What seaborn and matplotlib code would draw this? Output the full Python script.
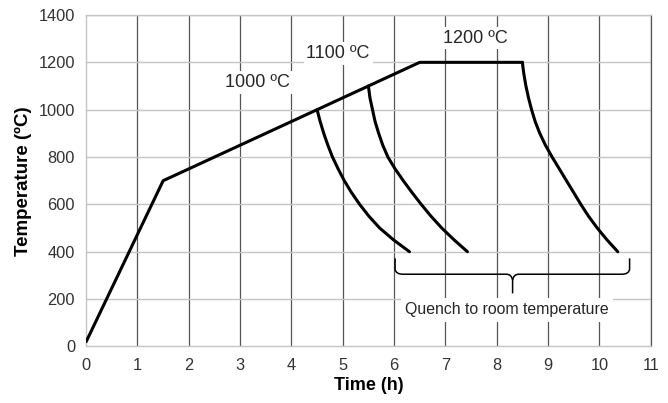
import numpy as np
import pandas as pd
import matplotlib
matplotlib.use("Agg")
import matplotlib.pyplot as plt
from matplotlib.path import Path
from matplotlib.patches import PathPatch
import seaborn as sns

# heating ramp + hold at 1200 C
ramp_time = [0.0, 1.5, 6.5, 8.5]
ramp_temp = [20, 700, 1200, 1200]

# quench curves
q1000_time = [4.50, 4.56, 4.63, 4.71, 4.80, 4.91, 5.03, 5.17, 5.33, 5.51, 5.72, 5.99, 6.30]
q1000_temp = [1000, 950, 900, 850, 800, 750, 700, 650, 600, 550, 500, 450, 400]
q1100_time = [5.50, 5.53, 5.58, 5.63, 5.70, 5.78, 5.88, 6.02, 6.18, 6.35, 6.53, 6.72, 6.93, 7.17, 7.43]
q1100_temp = [1100, 1050, 1000, 950, 900, 850, 800, 750, 700, 650, 600, 550, 500, 450, 400]
q1200_time = [8.50, 8.53, 8.57, 8.62, 8.68, 8.75, 8.84, 8.95, 9.08, 9.22, 9.36, 9.50, 9.64, 9.79, 9.96, 10.15, 10.36]
q1200_temp = [1200, 1150, 1100, 1050, 1000, 950, 900, 850, 800, 750, 700, 650, 600, 550, 500, 450, 400]

labels = ["1000 ºC", "1100 ºC", "1200 ºC"]
label_x = [3.34, 4.91, 7.58]
label_y = [1115, 1238, 1302]

sns.set_theme(style="white")
plt.rcParams["font.family"] = ["Liberation Sans", "DejaVu Sans"]

fig = plt.figure(figsize=(6.68, 4.03), dpi=100)
ax = fig.add_axes([0.129, 0.1404, 0.845, 0.8224])

series = [(ramp_time, ramp_temp), (q1000_time, q1000_temp),
          (q1100_time, q1100_temp), (q1200_time, q1200_temp)]
for t, T in series:
    df = pd.DataFrame({"time": t, "temp": T})
    sns.lineplot(data=df, x="time", y="temp", sort=False, color="black",
                 lw=2.2, ax=ax, zorder=4, solid_joinstyle="round")

ax.set_xlim(0, 11)
ax.set_ylim(0, 1400)
ax.set_xticks(range(0, 12))
ax.set_yticks(range(0, 1401, 200))

# gridlines: vertical dark, horizontal light
for x in range(1, 12):
    ax.axvline(x, color="#555555", lw=0.9, zorder=1)
for y in range(200, 1401, 200):
    ax.axhline(y, color="#c4c4c4", lw=1.0, zorder=1)

for s in ["left", "bottom", "top"]:
    ax.spines[s].set_color("#c4c4c4")
    ax.spines[s].set_linewidth(1.0)
ax.spines["right"].set_color("#555555")
ax.spines["right"].set_linewidth(0.9)

ax.tick_params(axis="both", length=0, labelsize=11.8, colors="#333333", pad=8)
ax.set_xlabel("Time (h)", fontsize=13, fontweight="bold", color="black", labelpad=3)
ax.set_ylabel("Temperature (ºC)", fontsize=13.5, fontweight="bold", color="black", labelpad=5)

for txt, x, y in zip(labels, label_x, label_y):
    ax.text(x, y, txt, ha="center", va="center", fontsize=13, zorder=5,
            bbox=dict(facecolor="white", edgecolor="none", pad=2))

# curly brace under the quench end points
bx0, bx1, bxm = 6.02, 10.59, 8.31
by_top, by_mid, by_tip = 372, 305, 224
verts = [
    (bx0, by_top), (bx0, by_mid + 20), (bx0 + 0.02, by_mid), (bx0 + 0.15, by_mid),
    (bxm - 0.12, by_mid), (bxm - 0.02, by_mid), (bxm, by_mid - 25), (bxm, by_tip),
]
codes = [Path.MOVETO, Path.LINETO, Path.CURVE3, Path.CURVE3,
         Path.LINETO, Path.CURVE3, Path.CURVE3, Path.LINETO]
ax.add_patch(PathPatch(Path(verts, codes), fill=False, color="black", lw=1.1, zorder=5))
verts = [
    (bx1, by_top), (bx1, by_mid + 20), (bx1 - 0.02, by_mid), (bx1 - 0.15, by_mid),
    (bxm + 0.12, by_mid), (bxm + 0.02, by_mid), (bxm, by_mid - 25),
]
codes = [Path.MOVETO, Path.LINETO, Path.CURVE3, Path.CURVE3,
         Path.LINETO, Path.CURVE3, Path.CURVE3]
ax.add_patch(PathPatch(Path(verts, codes), fill=False, color="black", lw=1.1, zorder=5))

ax.text(8.2, 154, "Quench to room temperature", ha="center", va="center",
        fontsize=11.4, zorder=5, bbox=dict(facecolor="white", edgecolor="none", pad=3))

fig.savefig("out.png", dpi=100)
